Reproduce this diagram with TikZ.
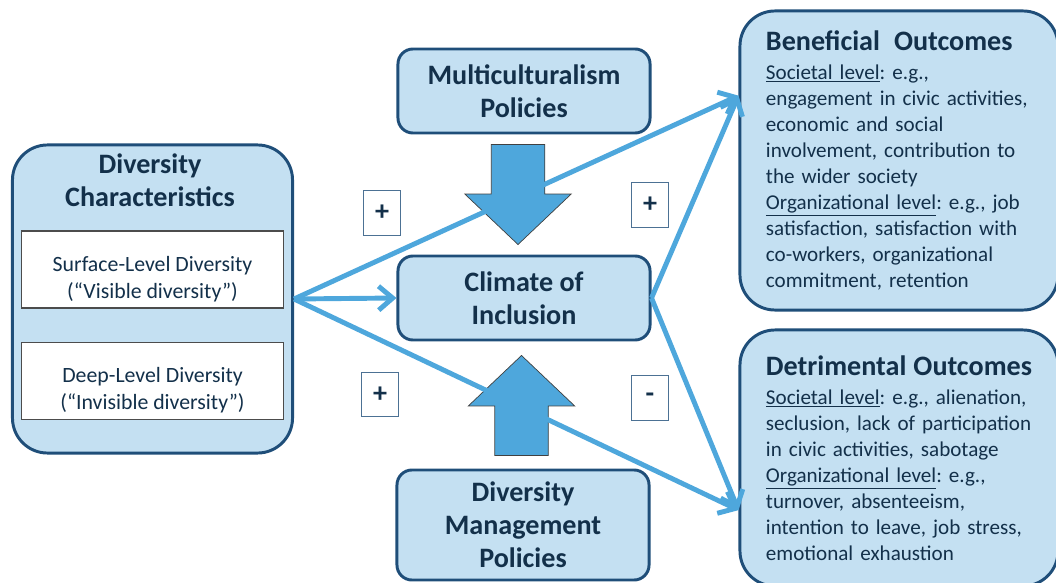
\documentclass[tikz,border=0pt]{standalone}
\usepackage{fontspec}
\setmainfont{Carlito}
\usepackage{tikz}
\usetikzlibrary{shapes.arrows, arrows.meta}
\definecolor{boxfill}{HTML}{C4E0F2}
\definecolor{boxline}{HTML}{1F4E79}
\definecolor{linkblue}{HTML}{4EA7DC}
\definecolor{navytext}{HTML}{13304A}
\frenchspacing
\newcommand{\boxtitlefont}{\fontsize{20}{23.6}\selectfont\bfseries}
\newcommand{\levelul}[1]{\underline{#1}}
\tikzstyle{bigbox} = [rectangle, rounded corners=0.875cm, draw=boxline,
                      line width=2.1pt, fill=boxfill, text=navytext]
\tikzstyle{policy} = [rectangle, rounded corners=0.375cm, draw=boxline,
                      line width=2.1pt, fill=boxfill, text=navytext,
                      minimum width=6.3cm, align=center, font=\boxtitlefont]
\tikzstyle{level} = [rectangle, draw=black!70, line width=0.8pt, fill=white,
                     minimum width=6.55cm, minimum height=1.925cm, align=center,
                     text=navytext, font=\fontsize{15.5}{19.1}\selectfont]
\tikzstyle{outcome} = [bigbox, minimum width=7.95cm, inner xsep=0.65cm,
                       text width=6.65cm, align=left,
                       font=\fontsize{15}{18.5}\selectfont]
\tikzstyle{sign} = [rectangle, draw=boxline!80, line width=0.8pt, fill=white,
                    minimum width=0.92cm, minimum height=1.12cm, text=navytext,
                    font=\fontsize{20}{22}\selectfont\bfseries]
\tikzstyle{blockarrow} = [single arrow, draw=black!75, line width=0.5pt,
                          fill=linkblue, inner sep=0.66cm, minimum height=2.5cm,
                          single arrow head extend=0.66cm,
                          single arrow tip angle=93]
\tikzstyle{arrow} = [line width=3.5pt, draw=linkblue,
                     -{Straight Barb[length=10pt, width=17pt]}]

\begin{document}
\begin{tikzpicture}[x=0.025cm, y=-0.025cm]
\useasboundingbox (0,0) rectangle (1056,583);

\node (divchar) [bigbox, minimum width=7cm, minimum height=7.7cm] at (152.5,299) {};
\node (divtitle) [text=navytext, align=center, font=\boxtitlefont] at (150,180) {Diversity\\Characteristics};
\node (surface) [level] at (152.5,269.5) {\rule{0pt}{24pt}Surface-Level Diversity\\(“Visible diversity”)};
\node (deep) [level] at (152.5,381) {\rule{0pt}{24pt}Deep-Level Diversity\\(“Invisible diversity”)};

\node (multi) [policy, minimum height=2.1cm] at (524,91) {Multiculturalism\\Policies};
\node (climate) [policy, minimum height=2.1cm] at (524,298) {Climate of\\Inclusion};
\node (divman) [policy, minimum height=2.75cm] at (523,525) {Diversity\\Management\\Policies};

\node (benef) [outcome, minimum height=7.475cm] at (899,160.5)
  {{\boxtitlefont Beneficial\ \ Outcomes}\\[2pt]
   \levelul{Societal level}: e.g.,\\
   engagement in civic activities,\\
   economic and social\\
   involvement, contribution to\\
   the wider society\\
   \levelul{Organizational level}: e.g., job\\
   satisfaction, satisfaction with\\
   co-workers, organizational\\
   commitment, retention};
\node (detr) [outcome, minimum height=6.4cm] at (899,458)
  {{\boxtitlefont Detrimental Outcomes}\\[2pt]
   \levelul{Societal level}: e.g., alienation,\\
   seclusion, lack of participation\\
   in civic activities, sabotage\\
   \levelul{Organizational level}: e.g.,\\
   turnover, absenteeism,\\
   intention to leave, job stress,\\
   emotional exhaustion};

\node (downarr) [blockarrow, shape border rotate=270, anchor=tip] at (518,245) {};
\node (uparr) [blockarrow, shape border rotate=90, anchor=tip] at (521.5,355) {};

\node (s1) [sign] at (382,213) {+};
\node (s2) [sign] at (650,205) {+};
\node (s3) [sign] at (380,394.5) {+};
\node (s4) [sign] at (650,398) {-};

\draw [arrow] (divchar.east) -- (benef.158);
\draw [arrow] (divchar.east) -- (climate.west);
\draw [arrow] (divchar.east) -- (detr.198);
\draw [arrow] (climate.east) -- (benef.158);
\draw [arrow] (climate.east) -- (detr.198);
\end{tikzpicture}
\end{document}
